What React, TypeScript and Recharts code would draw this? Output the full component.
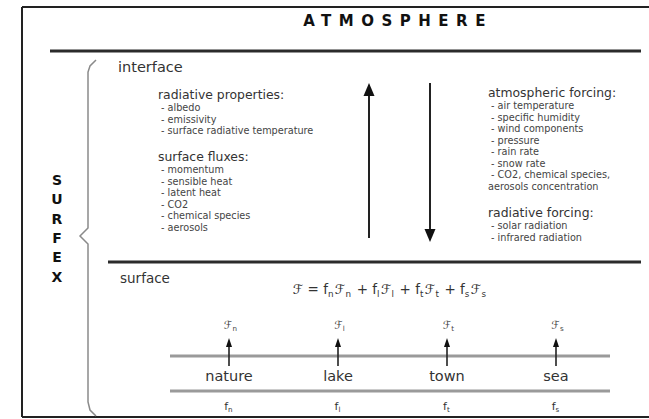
import { ComposedChart, XAxis, YAxis, Scatter, Line, ReferenceLine } from 'recharts';

const title = 'ATMOSPHERE';
const sideLabel = 'SURFEX';
const topZone = 'interface';
const bottomZone = 'surface';

const radiativeProperties = ['albedo', 'emissivity', 'surface radiative temperature'];
const surfaceFluxes = ['momentum', 'sensible heat', 'latent heat', 'CO2', 'chemical species', 'aerosols'];
const atmosphericForcing = [
  'air temperature',
  'specific humidity',
  'wind components',
  'pressure',
  'rain rate',
  'snow rate',
  'CO2, chemical species,',
];
const atmosphericForcingTail = 'aerosols concentration';
const radiativeForcing = ['solar radiation', 'infrared radiation'];

const tiles = ['nature', 'lake', 'town', 'sea'];
const tileSubscripts = ['n', 'l', 't', 's'];

const W = 649;
const H = 419;
const FONT = '"DejaVu Sans", Verdana, sans-serif';
const SCRIPT_F = '\u2131';

type Label = {
  x: number;
  y: number;
  text: string;
  size: number;
  bold?: boolean;
  color?: string;
  anchor?: 'start' | 'middle';
  spacing?: number;
  sub?: string;
  formula?: boolean;
};

const HEAD_SIZE = 12.4;
const ITEM_SIZE = 9.7;

function listLabels(heading: string, items: string[], x: number, y: number, step: number): Label[] {
  const out: Label[] = [{ x, y, text: heading, size: HEAD_SIZE, color: '#333' }];
  items.forEach((t, i) => {
    out.push({ x: x + 3, y: y + 12 + i * step, text: `- ${t}`, size: ITEM_SIZE, color: '#444' });
  });
  return out;
}

const tileX = (i: number) => 229 + i * 109;

const labels: Label[] = [
  { x: 398, y: 26, text: title, size: 15, bold: true, anchor: 'middle', spacing: 7.5, color: '#111' },
  ...sideLabel.split('').map((c, i) => ({
    x: 57, y: 185 + i * 19.3, text: c, size: 14, bold: true, anchor: 'middle' as const, color: '#111',
  })),
  { x: 118, y: 72, text: topZone, size: 14.5, color: '#333' },
  { x: 120, y: 283, text: bottomZone, size: 13.5, color: '#333' },
  ...listLabels('radiative properties:', radiativeProperties, 158, 99, 11.5),
  ...listLabels('surface fluxes:', surfaceFluxes, 158, 161, 11.5),
  ...listLabels('atmospheric forcing:', atmosphericForcing, 488, 97, 11.5),
  { x: 488, y: 97 + 12 + atmosphericForcing.length * 11.5, text: atmosphericForcingTail, size: ITEM_SIZE, color: '#444' },
  ...listLabels('radiative forcing:', radiativeForcing, 488, 217, 11.5),
  { x: 390, y: 294, text: '', size: 13.5, anchor: 'middle', color: '#333', formula: true },
  ...tiles.map((t, i) => ({ x: tileX(i), y: 381, text: t, size: 14.5, anchor: 'middle' as const, color: '#333' })),
  ...tileSubscripts.map((s, i) => ({ x: tileX(i), y: 410, text: 'f', sub: s, size: 11, anchor: 'middle' as const, color: '#333' })),
  ...tileSubscripts.map((s, i) => ({ x: tileX(i) + 2, y: 329, text: SCRIPT_F, sub: s, size: 11, anchor: 'middle' as const, color: '#444' })),
];

type Head = { x: number; y: number; dir: 'up' | 'down'; w: number; h: number };
const heads: Head[] = [
  { x: 369, y: 83, dir: 'up', w: 11, h: 13 },
  { x: 430, y: 242, dir: 'down', w: 11, h: 13 },
  ...tiles.map((_, i) => ({ x: tileX(i), y: 338, dir: 'up' as const, w: 6, h: 9 })),
];

const brace = [
  { x: 96, y: 60 },
  { x: 90, y: 66 },
  { x: 88, y: 72 },
  { x: 88, y: 228 },
  { x: 80, y: 236 },
  { x: 88, y: 244 },
  { x: 88, y: 402 },
  { x: 90, y: 410 },
  { x: 96, y: 416 },
];

function Sub({ base, sub, size }: { base: string; sub: string; size: number }) {
  return (
    <>
      <tspan>{base}</tspan>
      <tspan fontSize={size * 0.65} dy={size * 0.2}>{sub}</tspan>
      <tspan dy={-size * 0.2}>{'\u200a'}</tspan>
    </>
  );
}

function TextShape(props: any) {
  const { cx, cy, payload } = props;
  const p = payload as Label;
  if (p.formula) {
    return (
      <text x={cx} y={cy} fontSize={p.size} fill={p.color} fontFamily={FONT} textAnchor="middle">
        <tspan>{SCRIPT_F} = </tspan>
        {tileSubscripts.map((s, i) => (
          <tspan key={s}>
            <Sub base="f" sub={s} size={p.size} />
            <Sub base={SCRIPT_F} sub={s} size={p.size} />
            {i < tileSubscripts.length - 1 ? <tspan>{i === 1 ? ' +  ' : ' + '}</tspan> : null}
          </tspan>
        ))}
      </text>
    );
  }
  return (
    <text
      x={cx}
      y={cy}
      fontSize={p.size}
      fontWeight={p.bold ? 'bold' : 'normal'}
      fill={p.color ?? '#333'}
      fontFamily={FONT}
      textAnchor={p.anchor ?? 'start'}
      letterSpacing={p.spacing ?? 0}
      style={{ whiteSpace: 'pre' }}
    >
      {p.sub ? <Sub base={p.text} sub={p.sub} size={p.size} /> : p.text}
    </text>
  );
}

function HeadShape(props: any) {
  const { cx, cy, payload } = props;
  const h = payload as Head;
  const s = h.dir === 'up' ? 1 : -1;
  const pts = `${cx},${cy} ${cx - h.w / 2},${cy + s * h.h} ${cx + h.w / 2},${cy + s * h.h}`;
  return <polygon points={pts} fill="#111" />;
}

export default function App() {
  return (
    <div style={{ position: 'absolute', left: 0, top: 0, background: '#fff' }}>
      <ComposedChart width={W} height={H} margin={{ top: 0, right: 0, bottom: 0, left: 0 }}>
        <XAxis type="number" dataKey="x" domain={[0, W]} hide allowDataOverflow />
        <YAxis type="number" dataKey="y" domain={[0, H]} reversed hide allowDataOverflow />

        {/* frame */}
        <ReferenceLine segment={[{ x: 22, y: 7 }, { x: 22, y: 417 }]} stroke="#222" strokeWidth={2} />
        <ReferenceLine segment={[{ x: 22, y: 7 }, { x: W, y: 7 }]} stroke="#222" strokeWidth={2} />
        <ReferenceLine segment={[{ x: 22, y: 417 }, { x: W, y: 417 }]} stroke="#222" strokeWidth={2} />

        {/* atmosphere / surface boundaries */}
        <ReferenceLine segment={[{ x: 50, y: 51 }, { x: 641, y: 51 }]} stroke="#2b2b2b" strokeWidth={3} />
        <ReferenceLine segment={[{ x: 108, y: 262 }, { x: 641, y: 262 }]} stroke="#2b2b2b" strokeWidth={3} />

        {/* tile band */}
        <ReferenceLine segment={[{ x: 170, y: 356 }, { x: 610, y: 356 }]} stroke="#9a9a9a" strokeWidth={3} />
        <ReferenceLine segment={[{ x: 170, y: 391 }, { x: 610, y: 391 }]} stroke="#9a9a9a" strokeWidth={3} />

        {/* exchange arrows */}
        <ReferenceLine segment={[{ x: 369, y: 238 }, { x: 369, y: 94 }]} stroke="#222" strokeWidth={2} />
        <ReferenceLine segment={[{ x: 430, y: 83 }, { x: 430, y: 230 }]} stroke="#222" strokeWidth={2} />
        {tiles.map((t, i) => (
          <ReferenceLine
            key={t}
            segment={[{ x: tileX(i), y: 366 }, { x: tileX(i), y: 345 }]}
            stroke="#222"
            strokeWidth={1.6}
          />
        ))}

        <Line
          data={brace}
          dataKey="y"
          type="linear"
          stroke="#8a8a8a"
          strokeWidth={1.5}
          dot={false}
          isAnimationActive={false}
        />
        <Scatter data={heads} dataKey="y" shape={HeadShape} isAnimationActive={false} />
        <Scatter data={labels} dataKey="y" shape={TextShape} isAnimationActive={false} />
      </ComposedChart>
    </div>
  );
}
